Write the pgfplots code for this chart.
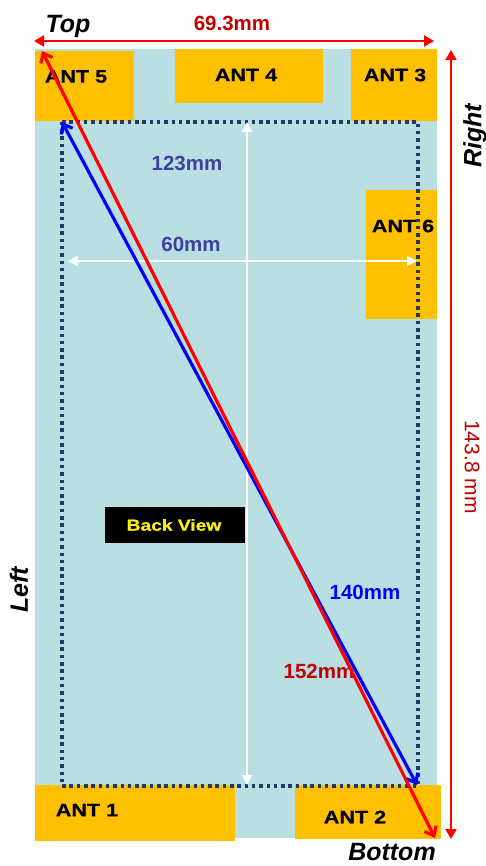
\documentclass[border=0pt]{standalone}
\usepackage{pgfplots}
\pgfplotsset{compat=1.18}
\usepackage{fontspec}
\usetikzlibrary{arrows.meta}
\setmainfont{Liberation Sans}
\newfontfamily\antfont[FakeStretch=1.2,FakeBold=0.6]{Liberation Sans}

\definecolor{board}{HTML}{B9DFE2}
\definecolor{antenna}{HTML}{FFC000}
\definecolor{darkred}{HTML}{C00000}
\definecolor{dimblue}{HTML}{3F3F9F}
\definecolor{navydots}{HTML}{1F3864}

\newcommand{\fs}[1]{\fontsize{#1}{#1}\selectfont}

\tikzset{
    block/.style={fill=#1, draw=none},
    ant/.style={font=\antfont\bfseries\fs{18}, black},
    side/.style={font=\bfseries\itshape\fs{25}, black},
    dim/.style={font=\bfseries\fs{20.5}},
}

\begin{document}
\begin{tikzpicture}
% keep the page the size of the reference
\useasboundingbox (0,0) rectangle (486pt,866pt);
\begin{axis}[
    at={(0,0)}, anchor=south west,
    width=486pt, height=866pt,
    scale only axis,
    xmin=0, xmax=486,
    ymin=0, ymax=866,
    y dir=reverse,
    hide axis,
    clip=false,
]

% phone body
\addplot[block=board] coordinates {(35,49) (437,49) (437,838) (35,838)} -- cycle;

% antennas
\addplot[block=antenna] coordinates {(35,51) (134,51) (134,121) (35,121)} -- cycle;
\addplot[block=antenna] coordinates {(175,49) (323,49) (323,103) (175,103)} -- cycle;
\addplot[block=antenna] coordinates {(351,49) (437,49) (437,121) (351,121)} -- cycle;
\addplot[block=antenna] coordinates {(366,190) (437,190) (437,319) (366,319)} -- cycle;
\addplot[block=antenna] coordinates {(35,785) (235,785) (235,841) (35,841)} -- cycle;
\addplot[block=antenna] coordinates {(295,785) (441,785) (441,839) (295,839)} -- cycle;

\node[ant] at (axis cs:76,76.5) {ANT 5};
\node[ant] at (axis cs:246,75) {ANT 4};
\node[ant] at (axis cs:395,75) {ANT 3};
\node[ant] at (axis cs:403,226) {ANT 6};
\node[ant] at (axis cs:87,810) {ANT 1};
\node[ant] at (axis cs:355,817) {ANT 2};

% back view label
\addplot[block=black] coordinates {(105,507) (245,507) (245,543) (105,543)} -- cycle;
\node[font=\antfont\bfseries\fs{16}, yellow] at (axis cs:174,525) {Back View};

% dimension labels, under the arrows
\node[dim, darkred] at (axis cs:232,23) {69.3mm};
\node[dim, dimblue] at (axis cs:187,163) {123mm};
\node[dim, dimblue] at (axis cs:191,244) {60mm};
\node[dim, blue] at (axis cs:365,592) {140mm};
\node[dim, darkred] at (axis cs:319,671) {152mm};
\node[font=\fs{21}, darkred, rotate=-90] at (axis cs:472,467) {143.8 mm};

% display outline
\addplot[navydots, line width=3.3pt, dash pattern=on 3.5pt off 3.8pt]
    coordinates {(62,122) (418,122) (418,786) (62,786)} -- cycle;

% white dimensions
\addplot[white, line width=1.8pt, {Triangle[width=10pt,length=10pt]}-{Triangle[width=10pt,length=10pt]}] coordinates {(247,122) (247,785)};
\addplot[white, line width=1.8pt, {Triangle[width=10pt,length=10pt]}-{Triangle[width=10pt,length=10pt]}] coordinates {(68,261) (417,261)};

% outer dimensions
\addplot[red, line width=2.2pt, {Triangle[width=11pt,length=10pt]}-{Triangle[width=11pt,length=10pt]}] coordinates {(34,41) (434,41)};
\addplot[red, line width=2.2pt, {Triangle[width=11pt,length=10pt]}-{Triangle[width=11pt,length=10pt]}] coordinates {(451,50) (451,839)};

% diagonals
\addplot[blue, line width=3.2pt, {Straight Barb[width=13pt,length=8pt]}-{Straight Barb[width=13pt,length=8pt]}] coordinates {(62,122) (417,785)};
\addplot[red, line width=3.2pt, {Straight Barb[width=13pt,length=8pt]}-{Straight Barb[width=13pt,length=8pt]}] coordinates {(42,51) (435,838)};

% side names
\node[side] at (axis cs:68,26) {Top};
\node[side] at (axis cs:392,852.5) {Bottom};
\node[side, rotate=90] at (axis cs:475,136) {Right};
\node[side, rotate=90] at (axis cs:19,590) {Left};
\end{axis}
\end{tikzpicture}
\end{document}
